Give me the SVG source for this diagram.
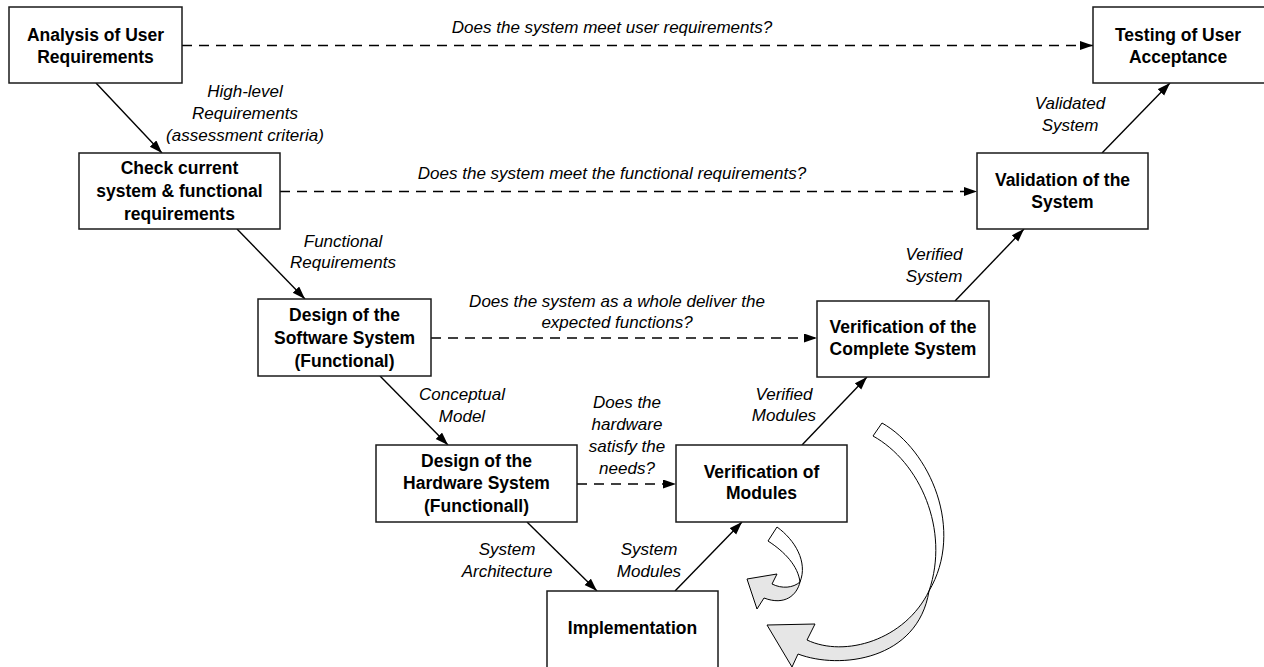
<svg xmlns="http://www.w3.org/2000/svg" width="1264" height="667" viewBox="0 0 1264 667">
<defs>
<marker id="ah" markerUnits="userSpaceOnUse" markerWidth="14" markerHeight="10" refX="13" refY="4.5" orient="auto">
<path d="M0,0 L13,4.5 L0,9 Z" fill="#000"/>
</marker>
<style>
.box{fill:#fff;stroke:#1a1a1a;stroke-width:1.5}
.t{font-family:"Liberation Sans",Arial,sans-serif;font-weight:bold;font-size:17.5px;text-anchor:middle;fill:#000}
.l{font-family:"Liberation Sans",Arial,sans-serif;font-style:italic;font-size:17px;text-anchor:middle;fill:#000}
.s{stroke:#000;stroke-width:1.4;fill:none;marker-end:url(#ah)}
.d{stroke:#000;stroke-width:1.4;fill:none;stroke-dasharray:10 7;marker-end:url(#ah)}
.rw{fill:#fff;stroke:#000;stroke-width:1}
.rg{fill:#e6e6e6;stroke:#000;stroke-width:1}
</style>
</defs>
<rect width="1264" height="667" fill="#fff"/>

<g id="connectors">
<line class="s" x1="96" y1="83" x2="162" y2="153"/>
<line class="s" x1="237" y1="229" x2="305" y2="299"/>
<line class="s" x1="380" y1="376" x2="448" y2="445"/>
<line class="s" x1="527" y1="522" x2="597" y2="591"/>
<line class="s" x1="675" y1="591" x2="742" y2="522"/>
<line class="s" x1="802" y1="445" x2="867" y2="377"/>
<line class="s" x1="955" y1="301" x2="1024" y2="229"/>
<line class="s" x1="1102" y1="153" x2="1170" y2="83"/>
<line class="d" x1="182" y1="45.5" x2="1093" y2="45.5"/>
<line class="d" x1="280" y1="191.5" x2="977" y2="191.5"/>
<line class="d" x1="431" y1="338" x2="817" y2="338"/>
<line class="d" x1="577" y1="484" x2="676" y2="484"/>

<text class="l" x="612" y="33">Does the system meet user requirements?</text>
<text class="l" x="245" y="97">High-level</text>
<text class="l" x="245" y="119">Requirements</text>
<text class="l" x="245" y="141">(assessment criteria)</text>
<text class="l" x="612" y="179">Does the system meet the functional requirements?</text>
<text class="l" x="1070" y="109">Validated</text>
<text class="l" x="1070" y="131">System</text>
<text class="l" x="343" y="247">Functional</text>
<text class="l" x="343" y="268">Requirements</text>
<text class="l" x="934" y="260">Verified</text>
<text class="l" x="934" y="282">System</text>
<text class="l" x="617" y="307">Does the system as a whole deliver the</text>
<text class="l" x="617" y="328">expected functions?</text>
<text class="l" x="462" y="400">Conceptual</text>
<text class="l" x="462" y="422">Model</text>
<text class="l" x="627" y="408">Does the</text>
<text class="l" x="627" y="430">hardware</text>
<text class="l" x="627" y="452">satisfy the</text>
<text class="l" x="627" y="474">needs?</text>
<text class="l" x="784" y="400">Verified</text>
<text class="l" x="784" y="421">Modules</text>
<text class="l" x="507" y="555">System</text>
<text class="l" x="507" y="577">Architecture</text>
<text class="l" x="649" y="555">System</text>
<text class="l" x="649" y="577">Modules</text>
</g>

<g id="loop-small">
<path class="rw" d="M768,541 L777,527 C795,540 808,562 800,582 C798,566 785,552 768,541 Z"/>
<path class="rg" d="M747,579 L777,574 L772,584 C782,589 793,588 800,582 C797,595 785,606 764,598 L757,609 Z"/>
</g>
<g id="loop-large">
<path class="rw" d="M873,436 L882,423 C930,450 965,530 929,591 C950,530 920,462 873,436 Z"/>
<path class="rg" d="M767,625 L815,624 L807,640 C845,658 905,640 929,591 C918,660 840,670 798,654 L792,667 Z"/>
</g>

<g id="n-analysis">
<rect class="box" x="9" y="7" width="173" height="76"/>
<text class="t" x="95.5" y="41">Analysis of User</text>
<text class="t" x="95.5" y="63">Requirements</text>
</g>
<g id="n-testing">
<rect class="box" x="1093" y="7" width="180" height="76"/>
<text class="t" x="1178" y="41">Testing of User</text>
<text class="t" x="1178" y="63">Acceptance</text>
</g>
<g id="n-check">
<rect class="box" x="79" y="153" width="201" height="76"/>
<text class="t" x="179.5" y="174">Check current</text>
<text class="t" x="179.5" y="197">system &amp; functional</text>
<text class="t" x="179.5" y="220">requirements</text>
</g>
<g id="n-validation">
<rect class="box" x="977" y="153" width="171" height="76"/>
<text class="t" x="1062.5" y="186">Validation of the</text>
<text class="t" x="1062.5" y="208">System</text>
</g>
<g id="n-design-sw">
<rect class="box" x="258" y="299" width="173" height="77"/>
<text class="t" x="344.5" y="321">Design of the</text>
<text class="t" x="344.5" y="344">Software System</text>
<text class="t" x="344.5" y="367">(Functional)</text>
</g>
<g id="n-ver-complete">
<rect class="box" x="817" y="301" width="172" height="76"/>
<text class="t" x="903" y="333">Verification of the</text>
<text class="t" x="903" y="355">Complete System</text>
</g>
<g id="n-design-hw">
<rect class="box" x="376" y="445" width="201" height="77"/>
<text class="t" x="476.5" y="467">Design of the</text>
<text class="t" x="476.5" y="489">Hardware System</text>
<text class="t" x="476.5" y="512">(Functionall)</text>
</g>
<g id="n-ver-modules">
<rect class="box" x="676" y="445" width="171" height="77"/>
<text class="t" x="761.5" y="478">Verification of</text>
<text class="t" x="761.5" y="499">Modules</text>
</g>
<g id="n-impl">
<rect class="box" x="547" y="591" width="171" height="90"/>
<text class="t" x="632.5" y="634">Implementation</text>
</g>
</svg>
